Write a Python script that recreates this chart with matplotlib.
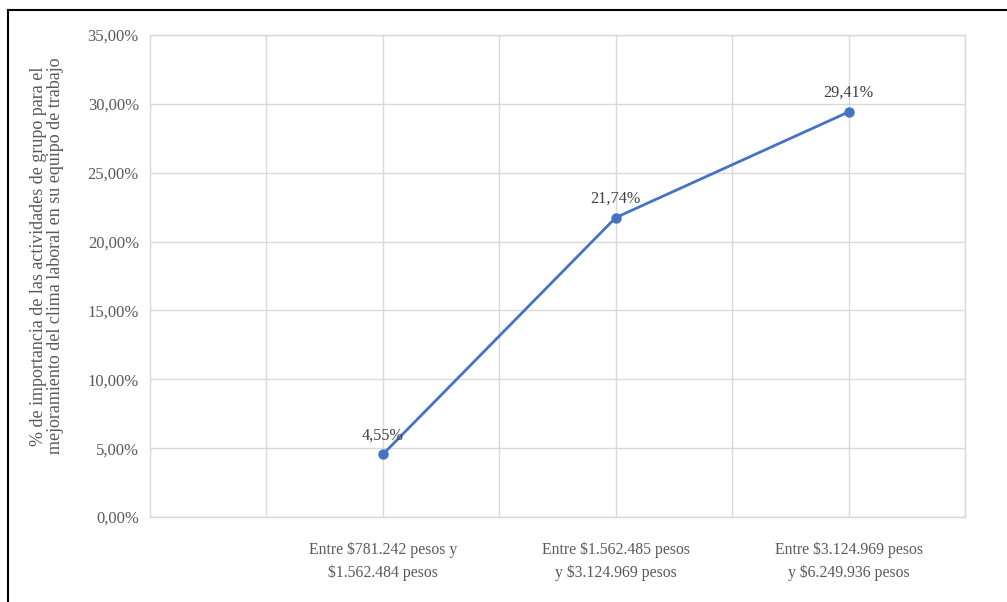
import matplotlib
matplotlib.use("Agg")
import matplotlib.pyplot as plt
from matplotlib.lines import Line2D
from matplotlib.ticker import FixedLocator, FuncFormatter

categories = ["Entre $781.242 pesos y\n$1.562.484 pesos",
              "Entre $1.562.485 pesos\ny $3.124.969 pesos",
              "Entre $3.124.969 pesos\ny $6.249.936 pesos"]
values = [4.55, 21.74, 29.41]
labels = ["4,55%", "21,74%", "29,41%"]
y_ticks = [0, 5, 10, 15, 20, 25, 30, 35]
y_label = "% de importancia de las actividades de grupo para el\nmejoramiento del clima laboral en su equipo de trabajo"

plt.rcParams['font.family'] = ['Liberation Serif', 'DejaVu Serif']

fig = plt.figure(figsize=(10.07, 6.02), dpi=100)
ax = fig.add_axes([150/1007, 1-517/602, (965-150)/1007, (517-35)/602])

x = [1, 2, 3]
ax.plot(x, values, color="#4472C4", lw=2.0, marker="o", ms=6.5, zorder=3)
for xi, v, t in zip(x, values, labels):
    ax.annotate(t, (xi, v), xytext=(0, 8), textcoords="offset points",
                ha="center", va="bottom", fontsize=11.7, color="#404040")

ax.set_xlim(0, 3.5)
ax.set_ylim(0, 35)
ax.yaxis.set_major_locator(FixedLocator(y_ticks))
ax.yaxis.set_major_formatter(FuncFormatter(lambda v, p: f"{v:.2f}".replace(".", ",") + "%"))
ax.set_xticks(x)
ax.set_xticklabels(categories)
ax.xaxis.set_minor_locator(FixedLocator([0.5, 1.5, 2.5, 3.5]))
ax.grid(True, which="both", axis="x", color="#d9d9d9", lw=1.0)
ax.grid(True, which="major", axis="y", color="#d9d9d9", lw=1.0)
ax.set_axisbelow(True)
for s in ax.spines.values():
    s.set_color("#d9d9d9")
    s.set_linewidth(1.0)
ax.tick_params(axis="y", which="both", length=0, colors="#595959", labelsize=12, pad=8)
ax.tick_params(axis="x", which="both", length=0, colors="#595959", labelsize=11.3, pad=18)
for lbl in ax.get_xticklabels():
    lbl.set_linespacing(1.45)

fig.text(47/1007, 1-256/602, y_label, rotation=90, ha="center", va="center",
         fontsize=13, color="#595959", linespacing=1.05, multialignment="center")

# screenshot border (top and left)
fig.add_artist(Line2D([8/1007, 8/1007], [0, 1-10/602], color="black", lw=1.5, transform=fig.transFigure))
fig.add_artist(Line2D([8/1007, 1], [1-10/602, 1-10/602], color="black", lw=1.5, transform=fig.transFigure))

fig.savefig("out.png", dpi=100)
